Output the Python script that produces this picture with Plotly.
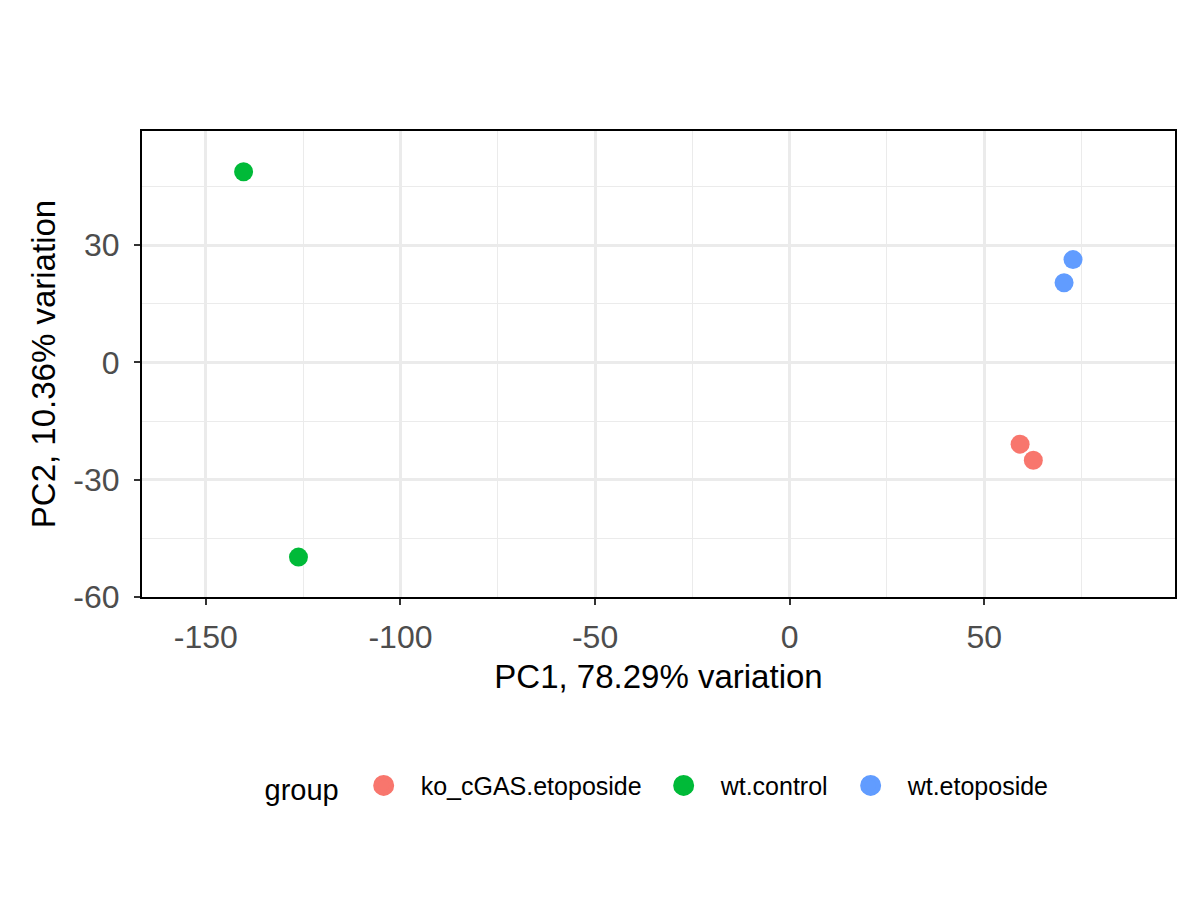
import plotly.graph_objects as go

# PCA scores
groups = ["ko_cGAS.etoposide", "wt.control", "wt.etoposide"]
group_colors = ["#F8766D", "#00BA38", "#619CFF"]
pc1 = {
    "ko_cGAS.etoposide": [59.2, 62.6],
    "wt.control": [-140.3, -126.2],
    "wt.etoposide": [72.8, 70.5],
}
pc2 = {
    "ko_cGAS.etoposide": [-20.9, -25.0],
    "wt.control": [48.8, -49.8],
    "wt.etoposide": [26.3, 20.4],
}

x_ticks = [-150, -100, -50, 0, 50]
y_ticks = [-60, -30, 0, 30]

fig = go.Figure()
for g, col in zip(groups, group_colors):
    fig.add_trace(go.Scatter(
        x=pc1[g], y=pc2[g], mode="markers", name=g, legendgroup=g,
        showlegend=False,
        marker=dict(color=col, size=19, line=dict(width=0)),
    ))
# legend keys: bigger circles than plotly draws by default
for g, col in zip(groups, group_colors):
    fig.add_trace(go.Scatter(
        x=[None], y=[None], mode="markers", name=g, legendgroup=g,
        marker=dict(color=col, size=16, line=dict(width=5, color=col)),
    ))

FONT = "Liberation Sans, Arial, sans-serif"
axis_font = dict(family=FONT, size=32, color="#4D4D4D")
title_font = dict(family=FONT, size=33, color="black")

# page body has an 8px margin, so the margins are shifted by that much
fig.update_layout(
    width=1200, height=900,
    paper_bgcolor="white", plot_bgcolor="white",
    margin=dict(l=134, r=33, t=123, b=311),
    font=dict(family=FONT),
    xaxis=dict(
        range=[-166.4, 99.0], tickvals=x_ticks, ticktext=[str(v) for v in x_ticks],
        showgrid=True, gridcolor="#EBEBEB", gridwidth=2.5,
        minor=dict(dtick=25, tick0=0, showgrid=True, gridcolor="#EBEBEB", gridwidth=1.2, ticks=""),
        zeroline=False, showline=True, mirror=True, linecolor="black", linewidth=2,
        ticks="outside", ticklen=6, tickwidth=2, tickcolor="#333333",
        tickfont=axis_font, ticklabelstandoff=5,
        title=dict(text="PC1, 78.29% variation", font=title_font, standoff=10),
    ),
    yaxis=dict(
        range=[-60, 59.2], tickvals=y_ticks, ticktext=[str(v) for v in y_ticks],
        showgrid=True, gridcolor="#EBEBEB", gridwidth=2.5,
        minor=dict(dtick=15, tick0=0, showgrid=True, gridcolor="#EBEBEB", gridwidth=1.2, ticks=""),
        zeroline=False, showline=True, mirror=True, linecolor="black", linewidth=2,
        ticks="outside", ticklen=6, tickwidth=2, tickcolor="#333333",
        tickfont=axis_font, ticklabelstandoff=8,
        title=dict(text="PC2, 10.36% variation", font=title_font, standoff=8),
    ),
    legend=dict(
        orientation="h", x=0.5, xanchor="center", y=-0.407, yanchor="middle",
        title=dict(text="group", font=dict(family=FONT, size=29, color="black")),
        font=dict(family=FONT, size=25, color="black"),
        itemsizing="trace", itemwidth=64, bgcolor="rgba(0,0,0,0)",
    ),
)

fig.write_html("out.html")
